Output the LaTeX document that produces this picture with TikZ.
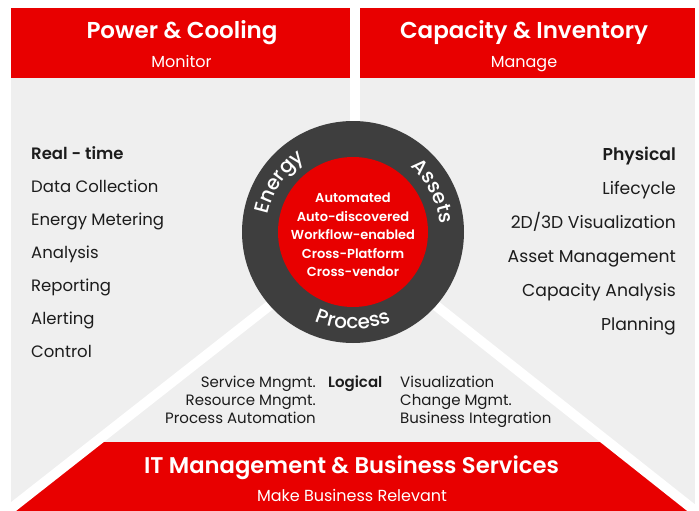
\documentclass[tikz,border=0pt]{standalone}
\usepackage{fontspec}
\setmainfont{Poppins}[BoldFont={* SemiBold}]
\newfontfamily\ringfam{Poppins Medium}
\usetikzlibrary{decorations.text}
\definecolor{fjred}{RGB}{232,0,0}
\definecolor{panelgray}{RGB}{239,239,239}
\definecolor{ringgray}{RGB}{62,62,62}
\definecolor{textdark}{RGB}{28,28,28}
\newcommand{\fsz}[1]{\fontsize{#1}{#1}\selectfont}
\newcommand{\ringfont}{\ringfam\fontsize{20}{20}\selectfont}

\begin{document}
\begin{tikzpicture}[x=1pt,y=1pt,
	head/.style={text=white, font=\fsz{23}\bfseries, inner sep=0pt},
	subhead/.style={text=white, font=\fsz{16}, inner sep=0pt},
	item/.style={text=textdark, font=\fsz{16.5}, inner sep=0pt},
	ritem/.style={text=textdark, font=\fsz{17.2}, inner sep=0pt},
	small/.style={text=textdark, font=\fsz{15}, inner sep=0pt},
	band/.style={white, line width=10pt},
	ringlabel/.style={decorate, decoration={text along path, text align=center, text color=white, text={|\ringfont|#1}}}]
	\useasboundingbox (0,0) rectangle (699,-511);
	\coordinate (ctr) at (353,-232);
	\coordinate (apex) at (353,-240);
	\coordinate (bl) at (8,-511);
	\coordinate (br) at (695,-511);
	%panels
	\fill[panelgray] (11,-8) rectangle (695,-511);
	\begin{scope}
		\clip (apex) -- (bl) -- (br) -- cycle;
		\fill[fjred] (0,-442) rectangle (699,-511);
	\end{scope}
	\draw[band] (355,0) -- (355,-240);
	\draw[band] (apex) -- (-10,-525);
	\draw[band] (apex) -- (713,-525);
	\fill[fjred] (11,-8) rectangle (350,-78);
	\fill[fjred] (360,-8) rectangle (695,-78);
	%headers
	\node[head, anchor=base] (power) at (182,-39) {Power \& Cooling};
	\node[subhead, anchor=base] (monitor) at (181.5,-68) {Monitor};
	\node[head, anchor=base] (capacity) at (524,-39) {Capacity \& Inventory};
	\node[subhead, anchor=base] (manage) at (524,-68) {Manage};
	%ring
	\fill[ringgray] (ctr) circle[radius=111pt];
	\fill[fjred] (ctr) circle[radius=75pt];
	\node[text=white, font=\fontsize{13}{18.5}\selectfont\bfseries, align=center, inner sep=0pt] (core) at (353,-235)
	{Automated\\Auto-discovered\\Workflow-enabled\\Cross-Platform\\Cross-vendor};
	\path[ringlabel=Energy] ([shift={(ctr)}]173:87pt) arc[start angle=173, end angle=119, radius=87pt];
	\path[ringlabel=Assets] ([shift={(ctr)}]58:87pt) arc[start angle=58, end angle=-4, radius=87pt];
	\path[ringlabel=Process] ([shift={(ctr)}]226:97pt) arc[start angle=226, end angle=314, radius=97pt];
	%left list
	\node[item, anchor=base west, font=\fsz{16.5}\bfseries] (realtime) at (31,-159) {Real - time};
	\foreach \txt [count=\i] in {Data Collection, Energy Metering, Analysis, Reporting, Alerting, Control}
		\node[item, anchor=base west] (left\i) at (31,-159-33*\i) {\txt};
	%right list
	\node[ritem, anchor=base east, font=\fsz{17.2}\bfseries] (physical) at (676,-160) {Physical};
	\foreach \txt [count=\i] in {Lifecycle, 2D/3D Visualization, Asset Management, Capacity Analysis, Planning}
		\node[ritem, anchor=base east] (right\i) at (676,-160-34*\i) {\txt};
	%logical
	\node[small, anchor=base west, font=\fsz{15}\bfseries] (logical) at (328,-387) {Logical};
	\foreach \txt [count=\i from 0] in {Service Mngmt., Resource Mngmt., Process Automation}
		\node[small, anchor=base east] (logl\i) at (316,-387-18*\i) {\txt};
	\foreach \txt [count=\i from 0] in {Visualization, Change Mgmt., Business Integration}
		\node[small, anchor=base west] (logr\i) at (400,-387-18*\i) {\txt};
	%bottom
	\node[head, anchor=base, font=\fsz{22.7}\bfseries] (itmgmt) at (351.5,-473) {IT Management \& Business Services};
	\node[subhead, anchor=base] (relevant) at (352,-501) {Make Business Relevant};
\end{tikzpicture}
\end{document}
